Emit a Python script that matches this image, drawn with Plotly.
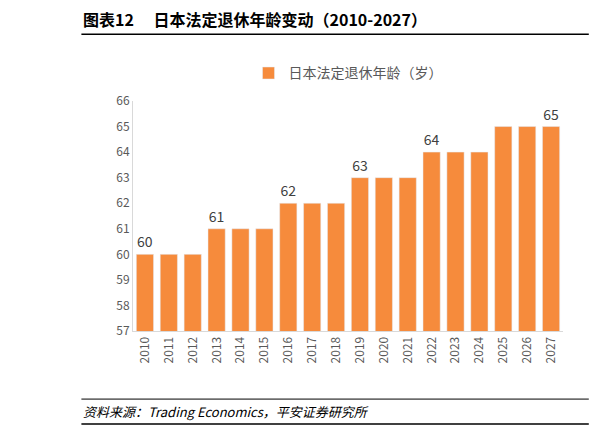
import plotly.graph_objects as go

years = [str(y) for y in range(2010, 2028)]
ages = [60,60,60,61,61,61,62,62,62,63,63,63,64,64,64,65,65,65]
label_years = ["2010","2013","2016","2019","2022","2027"]
labels = [str(a) if y in label_years else "" for y, a in zip(years, ages)]

F = "Noto Sans CJK SC"
fig = go.Figure(go.Bar(
    x=years, y=ages, name="日本法定退休年龄（岁）",
    marker_color="#F68B3C", width=0.72,
    text=labels, textposition="outside", cliponaxis=False,
    textfont=dict(size=14, color="#404040", family=F),
    showlegend=True,
))
fig.update_layout(
    width=603, height=432, paper_bgcolor="white", plot_bgcolor="white",
    margin=dict(l=125, r=48, t=93, b=109),
    font=dict(family=F, color="#595959"),
    bargap=0.28,
    legend=dict(orientation="h", x=0.5, xanchor="center", y=1.12, yanchor="middle",
                font=dict(size=14, color="#595959"), itemwidth=30),
    xaxis=dict(type="category", tickangle=-90, tickfont=dict(size=12), showline=True,
               linecolor="#D9D9D9", ticks=""),
    yaxis=dict(range=[57, 66], dtick=1, tickfont=dict(size=12), showline=True,
               linecolor="#D9D9D9", showgrid=False, ticks="", zeroline=False),
    shapes=[
        dict(type="line", xref="paper", yref="paper", x0=-0.12, x1=1.06, y0=1.29, y1=1.29,
             line=dict(color="black", width=1.5)),
        dict(type="line", xref="paper", yref="paper", x0=-0.12, x1=1.06, y0=-0.296, y1=-0.296,
             line=dict(color="black", width=1)),
        dict(type="line", xref="paper", yref="paper", x0=-0.12, x1=1.06, y0=-0.404, y1=-0.404,
             line=dict(color="black", width=1.5)),
    ],
    annotations=[
        dict(text="<b>图表12　 日本法定退休年龄变动（2010-2027）</b>", xref="paper", yref="paper",
             x=-0.12, y=1.295, xanchor="left", yanchor="bottom", showarrow=False,
             font=dict(size=16, color="black", family=F)),
        dict(text="<i>资料来源：Trading Economics，平安证券研究所</i>", xref="paper", yref="paper",
             x=-0.12, y=-0.35, xanchor="left", yanchor="middle", showarrow=False,
             font=dict(size=13, color="black", family=F)),
    ],
)
fig.write_html("out.html")
